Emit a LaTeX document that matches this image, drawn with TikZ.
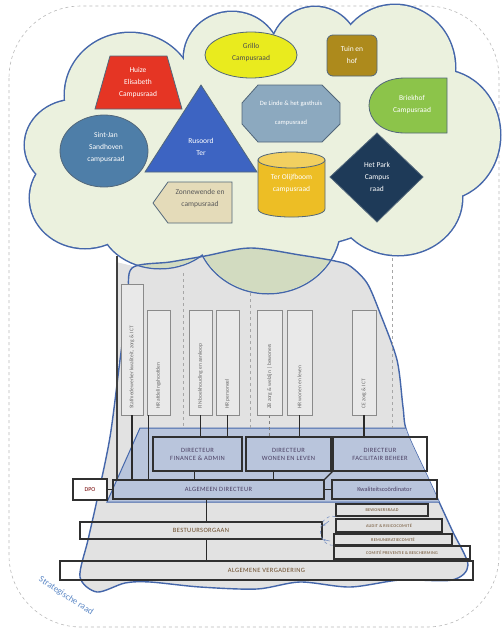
\documentclass[tikz,border=0pt]{standalone}
\usepackage{fontspec}
\setmainfont{Carlito}
\usetikzlibrary{arrows.meta}
\definecolor{cloudfill}{HTML}{EBF1DE}
\definecolor{clouddark}{HTML}{D2DBC0}
\definecolor{outl}{HTML}{4466AA}
\definecolor{grayreg}{HTML}{E2E2E2}
\definecolor{bandc}{HTML}{B9C5DC}
\definecolor{shpline}{HTML}{52677A}
\definecolor{boxline}{HTML}{303030}
\definecolor{connc}{HTML}{2A2A2A}
\definecolor{vline}{HTML}{8A8A8A}
\definecolor{vfill}{HTML}{E9E9E9}
\definecolor{vtextc}{HTML}{6A6A6A}
\definecolor{dirtext}{HTML}{4A3F62}
\definecolor{orgtext}{HTML}{6A4A28}
\definecolor{cred}{HTML}{E53524}
\definecolor{cyellow}{HTML}{E9EB1E}
\definecolor{colive}{HTML}{AD8A1C}
\definecolor{cgreen}{HTML}{8CC44A}
\definecolor{coct}{HTML}{8CA9BF}
\definecolor{ctri}{HTML}{3D64C2}
\definecolor{ccirc}{HTML}{4E7EA8}
\definecolor{cpent}{HTML}{E4DBB9}
\definecolor{ccyl}{HTML}{EDBE25}
\definecolor{ccyltop}{HTML}{F2D060}
\definecolor{cdiam}{HTML}{1E3A58}
\definecolor{stratc}{HTML}{5B87C5}
\newcommand\grayshape{plot[smooth cycle, tension=0.5] coordinates {(132,268) (170,262) (205,256) (250,248) (300,255) (335,261) (350,266) (367,283) (380,313) (397,360) (403,407) (407,432) (429,480) (452,530) (468,565) (452,580) (400,580) (350,587) (300,582) (257,589) (200,587) (150,582) (125,583) (97,592) (80,577) (88,540) (97,500) (110,437) (120,360) (128,300)}}
\newcommand\cloudlobes[1]{%
  \path[#1] (130,95) ellipse (65 and 62);
  \path[#1] (232,58) ellipse (48 and 46);
  \path[#1] (315,55) ellipse (45 and 48);
  \path[#1] (395,68) ellipse (60 and 63);
  \path[#1] (440,135) ellipse (60 and 65);
  \path[#1] (398,198) ellipse (64 and 57);
  \path[#1] (268,226) ellipse (72 and 67);
  \path[#1] (160,220) ellipse (60 and 48);
  \path[#1] (85,198) ellipse (55 and 50);
  \path[#1] (75,145) ellipse (50 and 45);
  \path[#1] (270,150) ellipse (165 and 100);}
\begin{document}
\begin{tikzpicture}[x=1pt,y=-1pt,
  shp/.style={draw=shpline, line width=0.8pt},
  ctext/.style={font=\fontsize{7.5}{12}\selectfont, align=center, text=white, inner sep=0pt},
  orgbox/.style={draw=boxline, line width=1.3pt, inner sep=0pt, align=center},
  vbox/.style={draw=vline, fill=vfill, line width=0.7pt, inner sep=0pt},
  vtext/.style={rotate=90, anchor=west, font=\fontsize{5.5}{6}\selectfont, text=vtextc, inner sep=0pt},
  conn/.style={draw=connc, line width=1.3pt},
  sep/.style={draw=gray!70, dashed, line width=0.5pt},
  capsd/.style={font=\fontsize{6.5}{8}\selectfont\addfontfeatures{LetterSpace=6}, text=dirtext},
  capso/.style={font=\fontsize{6.5}{8}\selectfont\addfontfeatures{LetterSpace=6}, text=orgtext},
  capss/.style={font=\fontsize{4.3}{5}\selectfont\addfontfeatures{LetterSpace=6}, text=orgtext},
  ]
\useasboundingbox (0,0) rectangle (502,630);
% outer dashed frame
\draw[gray!55, dashed, line width=0.6pt, rounded corners=72pt] (9,6) rectangle (499,627);
% gray region
\fill[grayreg] \grayshape;
\fill[grayreg] (116,262) -- (133,266) -- (121,362) -- (116,362) -- cycle;
% cloud
\cloudlobes{draw=outl, line width=3pt}
\cloudlobes{fill=cloudfill}
\begin{scope}
  \clip \grayshape;
  \cloudlobes{fill=clouddark}
\end{scope}
\draw[outl, line width=1.4pt] \grayshape;
% blue band
\begin{scope}
  \clip \grayshape;
  \filldraw[fill=bandc, draw=outl, line width=1pt] (140,428) -- (440,428) -- (480,502) -- (107,502) -- cycle;
\end{scope}
% column separators
\draw[sep] (183,273) -- (183,428);
\draw[sep] (250,293) -- (250,428);
\draw[sep] (392,258) -- (392,428);
% vertical boxes
\node[vbox, minimum width=22pt, minimum height=131pt] (v1) at (132,349.5) {};
\node[vbox, minimum width=23pt, minimum height=105pt] (v2) at (158.5,362.5) {};
\node[vbox, minimum width=23pt, minimum height=105pt] (v3) at (200.5,362.5) {};
\node[vbox, minimum width=23pt, minimum height=105pt] (v4) at (227.5,362.5) {};
\node[vbox, minimum width=25pt, minimum height=105pt] (v5) at (269.5,362.5) {};
\node[vbox, minimum width=25pt, minimum height=105pt] (v6) at (299.5,362.5) {};
\node[vbox, minimum width=24pt, minimum height=105pt] (v7) at (364,362.5) {};
\node[vtext] (vt1) at (132,409) {Stafmedewerker kwaliteit, zorg \& ICT};
\node[vtext] (vt2) at (158.5,409) {HR afdelingshoofden};
\node[vtext] (vt3) at (200.5,409) {FIN boekhouding en aankoop};
\node[vtext] (vt4) at (227.5,409) {HR personeel};
\node[vtext] (vt5) at (269.5,409) {ZB zorg \& welzijn | bewoners};
\node[vtext] (vt6) at (299.5,409) {HR wonen en leven};
\node[vtext] (vt7) at (364,409) {CE zorg \& ICT};
% org boxes
\node[orgbox, minimum width=89pt, minimum height=34pt, capsd] (dirfin) at (197.5,454) {DIRECTEUR\\FINANCE \& ADMIN};
\node[orgbox, minimum width=85pt, minimum height=34pt, capsd] (dirwon) at (288.5,454) {DIRECTEUR\\WONEN EN LEVEN};
\node[orgbox, minimum width=94pt, minimum height=34pt, capsd] (dirfac) at (380,454) {DIRECTEUR\\FACILITAIR BEHEER};
\node[orgbox, minimum width=211pt, minimum height=19pt, capsd] (AD) at (218.5,489.5) {ALGEMEEN DIRECTEUR};
\node[orgbox, fill=white, minimum width=34pt, minimum height=21pt, font=\fontsize{6}{7}\selectfont, text=red!45!black] (DPO) at (90,489.5) {DPO};
\node[orgbox, minimum width=105pt, minimum height=19pt, font=\fontsize{6.3}{7}\selectfont, text=dirtext] (Kwal) at (384.5,489.5) {Kwaliteitscoördinator};
\node[orgbox, minimum width=242pt, minimum height=17pt, capso] (BO) at (201,530.5) {BESTUURSORGAAN};
\node[orgbox, minimum width=413pt, minimum height=19pt, capso] (AV) at (266.5,570.5) {ALGEMENE VERGADERING};
\node[orgbox, minimum width=92pt, minimum height=12pt, capss] (comA) at (382,510) {BEWONERSRAAD};
\node[orgbox, minimum width=106pt, minimum height=13pt, capss] (comB) at (389,525.5) {AUDIT \& RISICOCOMITÉ};
\node[orgbox, minimum width=118pt, minimum height=11pt, capss] (comC) at (393,539.5) {REMUNERATIECOMITÉ};
\node[orgbox, minimum width=136pt, minimum height=13pt, capss] (comD) at (402,552.5) {COMITÉ PREVENTIE \& BESCHERMING};
% connectors
\coordinate (cloudfoot) at (117,256);
\draw[conn, draw=gray!50!black] (cloudfoot) -- (cloudfoot |- AD.north);
\draw[conn] (v1.south) -- (v1.south |- AD.north);
\draw[conn] ([xshift=1.5pt]v2.south west) -- ([xshift=1.5pt]v2.south west |- AD.north);
\draw[conn] (v3.south) -- (v3.south |- dirfin.north);
\draw[conn] (v4.south) -- (v4.south |- dirfin.north);
\draw[sep, draw=gray] (v5.south) -- (v5.south |- dirwon.north);
\draw[conn] (v6.south) -- (v6.south |- dirwon.north);
\draw[conn] (v7.south) -- (v7.south |- dirfac.north);
\draw[conn] ([xshift=-3pt]dirfin.south) -- ([xshift=-3pt]dirfin.south |- AD.north);
\draw[conn] ([xshift=-15pt]dirwon.south) -- ([xshift=-15pt]dirwon.south |- AD.north);
\draw[conn] (dirfac.south west) -- (AD.north east);
\draw[conn] (DPO.east) -- (AD.west);
\draw[conn] (AD.east) -- (Kwal.west);
\draw[conn] ([xshift=-12pt]AD.south) -- ([xshift=-12pt]AD.south |- BO.north);
\draw[conn] ([xshift=-12pt]AD.south |- BO.south) -- ([xshift=-12pt]AD.south |- AV.north);
% comites to bestuursorgaan
\draw[outl!70, dashed, line width=0.6pt] (comA.south west) .. controls (318,512) and (314,545) .. (comD.north west);
\draw[outl!70, line width=0.6pt, -{Stealth[length=3pt]}] (329,521) -- (BO.east |- 0,526);
\draw[outl!70, line width=0.6pt, -{Stealth[length=3pt]}] (330,541) -- (BO.south east);
% cloud shapes
\filldraw[shp, fill=cred] (110,56) -- (167,56) -- (182,109) -- (95,109) -- cycle;
\node[ctext] (t1) at (138,83) {Huize\\Elisabeth\\Campusraad};
\filldraw[shp, fill=cyellow] (251,55) ellipse (46 and 23);
\node[ctext, text=black!70] (t2) at (251,52) {Grillo\\Campusraad};
\filldraw[shp, fill=colive, rounded corners=6pt] (327,35) rectangle (377,76);
\node[ctext] (t3) at (352,55) {Tuin en\\hof};
\filldraw[shp, fill=cgreen] (447,78) -- (447,133) -- (405,133) .. controls (357,133) and (357,78) .. (405,78) -- cycle;
\node[ctext] (t4) at (412,104) {Briekhof\\Campusraad};
\filldraw[shp, fill=coct] (258,85) -- (322,85) -- (340,103) -- (340,124) -- (322,142) -- (258,142) -- (242,124) -- (242,103) -- cycle;
\node[ctext, font=\fontsize{6.5}{19}\selectfont] (t5) at (291,113) {De Linde \& het gasthuis\\campusraad};
\filldraw[shp, fill=ctri] (201,85) -- (257,172) -- (145,172) -- cycle;
\node[ctext] (t6) at (201,147) {Rusoord\\Ter};
\filldraw[shp, fill=ccirc] (104,151) ellipse (44 and 36);
\node[ctext] (t7) at (106,148) {Sint-Jan\\Sandhoven\\campusraad};
\filldraw[shp, fill=cpent] (153,203) -- (168,182) -- (232,182) -- (232,223) -- (168,223) -- cycle;
\node[ctext, text=black!65] (t8) at (200,198) {Zonnewende en\\campusraad};
\filldraw[shp, fill=ccyl] (258,160) -- (258,209) .. controls (258,219.7) and (325,219.7) .. (325,209) -- (325,160) -- cycle;
\filldraw[shp, fill=ccyltop] (291.5,160) ellipse (33.5 and 8);
\node[ctext] (t9) at (291.5,183) {Ter Olijfboom\\campusraad};
\filldraw[shp, fill=cdiam] (377,133) -- (423,177) -- (377,222) -- (330,177) -- cycle;
\node[ctext] (t10) at (377,177) {Het Park\\Campus\\raad};
% strategische raad
\node[rotate=-33, text=stratc, font=\fontsize{9}{9}\selectfont, inner sep=0pt] (strat) at (66,596) {Strategische raad};
\end{tikzpicture}
\end{document}
